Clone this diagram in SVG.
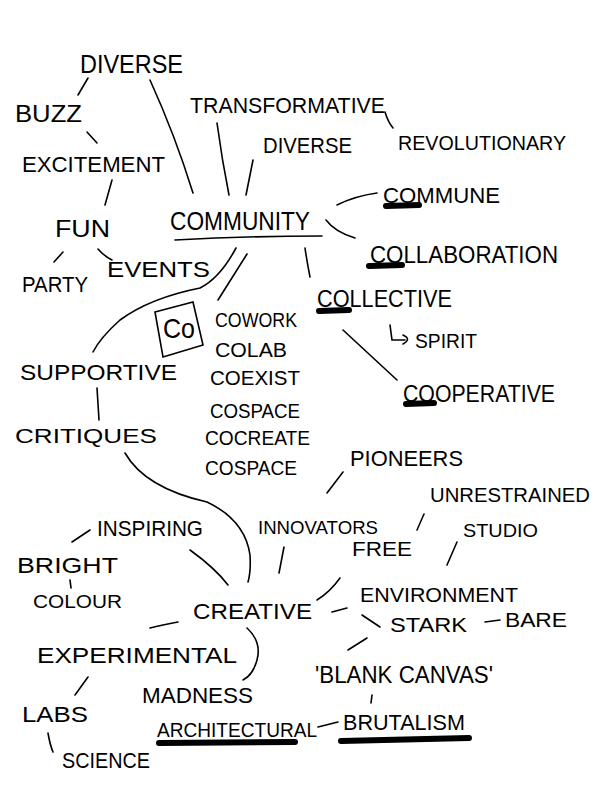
<svg xmlns="http://www.w3.org/2000/svg" width="600" height="800" viewBox="0 0 600 800">
<style>
text{font-family:"Liberation Sans",Arial,sans-serif;fill:#000;}
.c path,.c line{fill:none;stroke:#000;stroke-width:1.6;stroke-linecap:round;}
.ul{stroke:#000;stroke-width:6;stroke-linecap:round;fill:none;}
.tl{stroke:#000;stroke-width:1.6;fill:none;stroke-linecap:round;}
</style>
<rect width="600" height="800" fill="#fff"/>
<g class="c" id="connectors">
<path d="M150 80 Q175 135 193 193"/>
<path d="M88 78 L78 95"/>
<path d="M87 132 L97 143"/>
<path d="M112 180 L105 205"/>
<path d="M63 252 L54 262"/>
<path d="M98 249 Q104 256 112 260"/>
<path d="M217 123 Q222 160 229 195"/>
<path d="M253 160 L246 195"/>
<path d="M385 112 Q388 122 393 128"/>
<path d="M337 205 Q355 196 377 193"/>
<path d="M326 220 Q335 232 355 238"/>
<path d="M236 248 Q220 278 200 288 Q150 298 120 320 Q100 338 93 352"/>
<path d="M247 254 L218 300"/>
<path d="M305 248 Q307 262 310 277"/>
<path d="M390 325 L392 340 L405 340"/>
<path d="M403 335 Q412 339 403 344"/>
<path d="M343 330 L397 380"/>
<path d="M97 388 L99 420"/>
<path d="M125 453 Q145 488 207 502 Q245 520 250 555 Q251 572 248 582"/>
<path d="M90 530 L72 542"/>
<path d="M70 580 L71 588"/>
<path d="M190 550 Q215 568 228 585"/>
<path d="M284 547 L279 573"/>
<path d="M343 472 L327 493"/>
<path d="M424 514 L417 530"/>
<path d="M457 542 L447 565"/>
<path d="M340 578 Q330 592 317 600"/>
<path d="M332 612 L347 608"/>
<path d="M362 615 L380 627"/>
<path d="M485 622 L500 620"/>
<path d="M178 622 Q162 625 150 628"/>
<path d="M247 628 Q262 642 257 660 Q253 675 243 680"/>
<path d="M88 677 L75 695"/>
<path d="M48 733 Q50 745 53 752"/>
<path d="M318 727 L338 722"/>
<path d="M367 638 L348 650"/>
<path d="M372 695 L371 703"/>
</g>
<g id="n-diverse"><text x="80" y="73" font-size="26" textLength="103" lengthAdjust="spacingAndGlyphs">DIVERSE</text></g>
<g id="n-buzz"><text x="15" y="122" font-size="24" textLength="67" lengthAdjust="spacingAndGlyphs">BUZZ</text></g>
<g id="n-excitement"><text x="22" y="172" font-size="22" textLength="143" lengthAdjust="spacingAndGlyphs">EXCITEMENT</text></g>
<g id="n-fun"><text x="55" y="237" font-size="24" textLength="55" lengthAdjust="spacingAndGlyphs">FUN</text></g>
<g id="n-party"><text x="22" y="292" font-size="22" textLength="66" lengthAdjust="spacingAndGlyphs">PARTY</text></g>
<g id="n-events"><text x="107" y="277" font-size="22" textLength="103" lengthAdjust="spacingAndGlyphs">EVENTS</text></g>
<g id="n-community"><text x="170" y="230" font-size="26" textLength="140" lengthAdjust="spacingAndGlyphs">COMMUNITY</text><path class="tl" d="M175 240 Q250 236 322 236"/></g>
<g id="n-transformative"><text x="190" y="113" font-size="22" textLength="195" lengthAdjust="spacingAndGlyphs">TRANSFORMATIVE</text></g>
<g id="n-diverse2"><text x="263" y="153" font-size="22" textLength="89" lengthAdjust="spacingAndGlyphs">DIVERSE</text></g>
<g id="n-revolutionary"><text x="398" y="150" font-size="20" textLength="168" lengthAdjust="spacingAndGlyphs">REVOLUTIONARY</text></g>
<g id="n-commune"><text x="383" y="203" font-size="22" textLength="117" lengthAdjust="spacingAndGlyphs">COMMUNE</text><path class="ul" d="M386 206 L419 205"/></g>
<g id="n-collaboration"><text x="370" y="263" font-size="24" textLength="188" lengthAdjust="spacingAndGlyphs">COLLABORATION</text><path class="ul" d="M369 266 L402 265"/></g>
<g id="n-collective"><text x="317" y="307" font-size="24" textLength="135" lengthAdjust="spacingAndGlyphs">COLLECTIVE</text><path class="ul" d="M319 311 L349 310"/></g>
<g id="n-spirit"><text x="415" y="348" font-size="20" textLength="62" lengthAdjust="spacingAndGlyphs">SPIRIT</text></g>
<g id="n-cooperative"><text x="403" y="402" font-size="24" textLength="152" lengthAdjust="spacingAndGlyphs">COOPERATIVE</text><path class="ul" d="M406 404 L434 403"/></g>
<g id="n-co"><path class="tl" d="M155 312 L193 302 L203 345 L163 357 Z"/><text x="163" y="338" font-size="28" textLength="32" lengthAdjust="spacingAndGlyphs">Co</text></g>
<g id="n-cowork"><text x="215" y="327" font-size="20" textLength="82" lengthAdjust="spacingAndGlyphs">COWORK</text></g>
<g id="n-colab"><text x="215" y="357" font-size="20" textLength="72" lengthAdjust="spacingAndGlyphs">COLAB</text></g>
<g id="n-coexist"><text x="210" y="385" font-size="20" textLength="90" lengthAdjust="spacingAndGlyphs">COEXIST</text></g>
<g id="n-cospace"><text x="210" y="418" font-size="20" textLength="90" lengthAdjust="spacingAndGlyphs">COSPACE</text></g>
<g id="n-cocreate"><text x="205" y="445" font-size="20" textLength="105" lengthAdjust="spacingAndGlyphs">COCREATE</text></g>
<g id="n-cospace2"><text x="205" y="475" font-size="20" textLength="92" lengthAdjust="spacingAndGlyphs">COSPACE</text></g>
<g id="n-supportive"><text x="20" y="380" font-size="22" textLength="157" lengthAdjust="spacingAndGlyphs">SUPPORTIVE</text></g>
<g id="n-critiques"><text x="15" y="443" font-size="20" textLength="142" lengthAdjust="spacingAndGlyphs">CRITIQUES</text></g>
<g id="n-inspiring"><text x="97" y="536" font-size="22" textLength="106" lengthAdjust="spacingAndGlyphs">INSPIRING</text></g>
<g id="n-bright"><text x="17" y="573" font-size="22" textLength="101" lengthAdjust="spacingAndGlyphs">BRIGHT</text></g>
<g id="n-colour"><text x="33" y="608" font-size="18" textLength="89" lengthAdjust="spacingAndGlyphs">COLOUR</text></g>
<g id="n-creative"><text x="193" y="619" font-size="22" textLength="119" lengthAdjust="spacingAndGlyphs">CREATIVE</text></g>
<g id="n-innovators"><text x="258" y="534" font-size="18" textLength="120" lengthAdjust="spacingAndGlyphs">INNOVATORS</text></g>
<g id="n-pioneers"><text x="350" y="466" font-size="22" textLength="113" lengthAdjust="spacingAndGlyphs">PIONEERS</text></g>
<g id="n-unrestrained"><text x="430" y="502" font-size="20" textLength="160" lengthAdjust="spacingAndGlyphs">UNRESTRAINED</text></g>
<g id="n-free"><text x="352" y="556" font-size="20" textLength="60" lengthAdjust="spacingAndGlyphs">FREE</text></g>
<g id="n-studio"><text x="463" y="537" font-size="18" textLength="75" lengthAdjust="spacingAndGlyphs">STUDIO</text></g>
<g id="n-environment"><text x="360" y="602" font-size="20" textLength="158" lengthAdjust="spacingAndGlyphs">ENVIRONMENT</text></g>
<g id="n-stark"><text x="390" y="632" font-size="20" textLength="77" lengthAdjust="spacingAndGlyphs">STARK</text></g>
<g id="n-bare"><text x="505" y="627" font-size="20" textLength="62" lengthAdjust="spacingAndGlyphs">BARE</text></g>
<g id="n-experimental"><text x="37" y="663" font-size="22" textLength="200" lengthAdjust="spacingAndGlyphs">EXPERIMENTAL</text></g>
<g id="n-madness"><text x="142" y="703" font-size="22" textLength="111" lengthAdjust="spacingAndGlyphs">MADNESS</text></g>
<g id="n-labs"><text x="22" y="722" font-size="22" textLength="66" lengthAdjust="spacingAndGlyphs">LABS</text></g>
<g id="n-science"><text x="62" y="768" font-size="22" textLength="88" lengthAdjust="spacingAndGlyphs">SCIENCE</text></g>
<g id="n-architectural"><text x="157" y="737" font-size="20" textLength="160" lengthAdjust="spacingAndGlyphs">ARCHITECTURAL</text><path class="ul" d="M159 743 L295 742"/></g>
<g id="n-brutalism"><text x="343" y="730" font-size="22" textLength="122" lengthAdjust="spacingAndGlyphs">BRUTALISM</text><path class="ul" d="M341 741 L469 738"/></g>
<g id="n-blankcanvas"><text x="315" y="683" font-size="24" textLength="178" lengthAdjust="spacingAndGlyphs">'BLANK CANVAS'</text></g>
</svg>
